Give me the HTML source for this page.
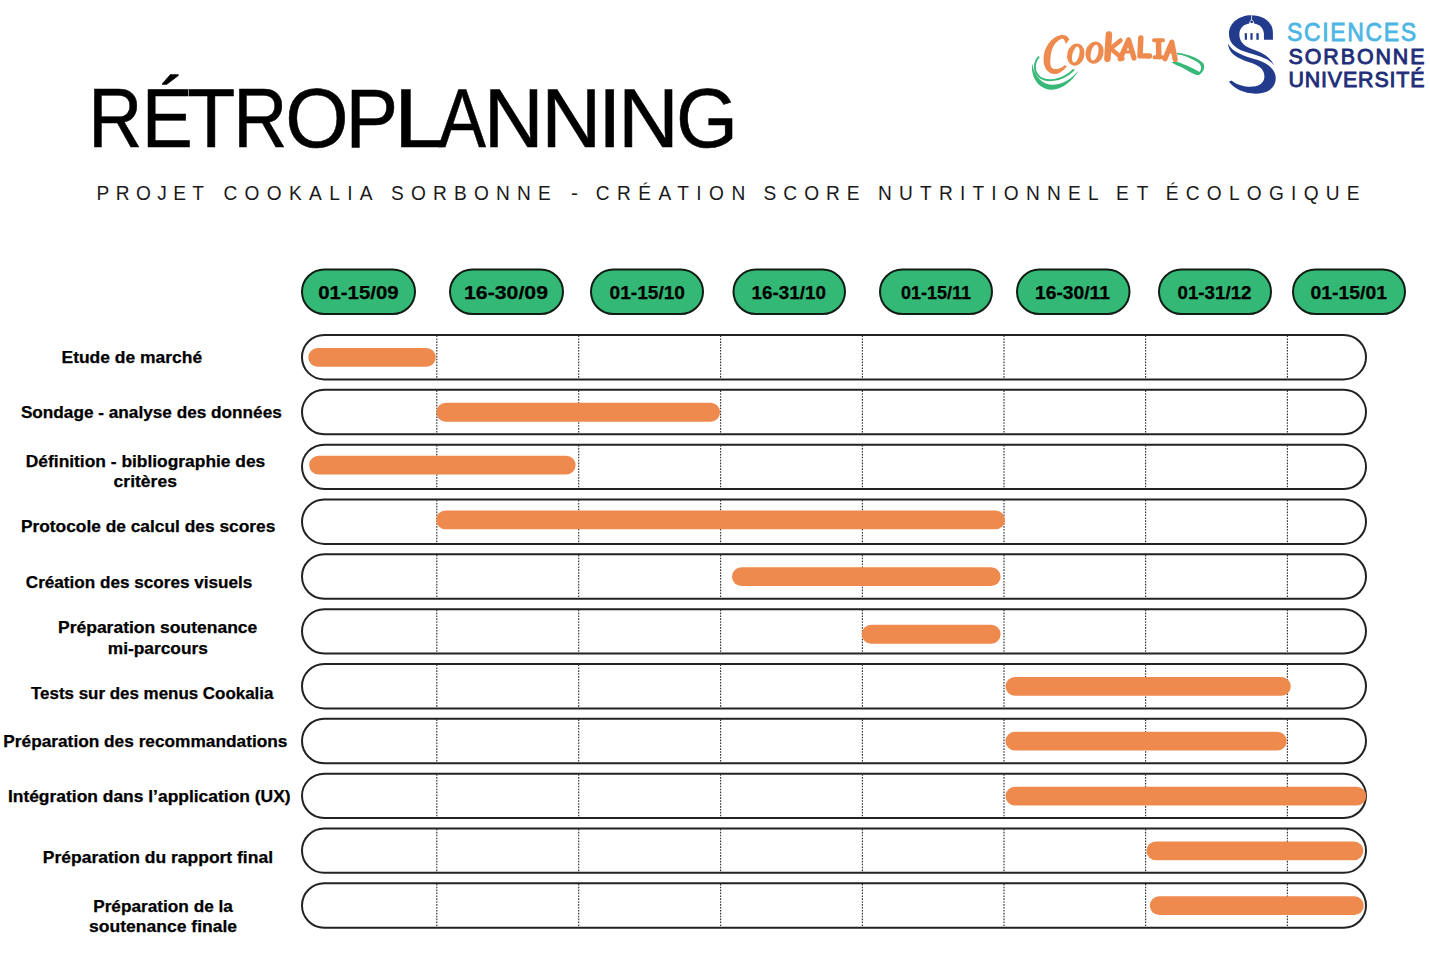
<!DOCTYPE html><html><head><meta charset="utf-8"><title>Rétroplanning</title><style>
html,body{margin:0;padding:0;background:#fff;}body{width:1430px;height:953px;overflow:hidden;position:relative;}
svg{position:absolute;left:0;top:0;display:block;}
text{font-family:"Liberation Sans",sans-serif;}
</style></head><body>
<svg width="1430" height="953" viewBox="0 0 1430 953">
<rect x="302.00" y="269.50" width="113.00" height="44.50" rx="22.25" fill="#33B875" stroke="#0f1d14" stroke-width="2.0"/>
<rect x="450.00" y="269.50" width="113.00" height="44.50" rx="22.25" fill="#33B875" stroke="#0f1d14" stroke-width="2.0"/>
<rect x="591.00" y="269.50" width="112.00" height="44.50" rx="22.25" fill="#33B875" stroke="#0f1d14" stroke-width="2.0"/>
<rect x="733.50" y="269.50" width="111.50" height="44.50" rx="22.25" fill="#33B875" stroke="#0f1d14" stroke-width="2.0"/>
<rect x="880.00" y="269.50" width="112.00" height="44.50" rx="22.25" fill="#33B875" stroke="#0f1d14" stroke-width="2.0"/>
<rect x="1017.00" y="269.50" width="112.50" height="44.50" rx="22.25" fill="#33B875" stroke="#0f1d14" stroke-width="2.0"/>
<rect x="1159.00" y="269.50" width="112.00" height="44.50" rx="22.25" fill="#33B875" stroke="#0f1d14" stroke-width="2.0"/>
<rect x="1293.00" y="269.50" width="112.00" height="44.50" rx="22.25" fill="#33B875" stroke="#0f1d14" stroke-width="2.0"/>
<rect x="302.00" y="335.00" width="1064.00" height="44.40" rx="22.20" fill="none" stroke="#222" stroke-width="2.0"/>
<line x1="436.80" y1="335.50" x2="436.80" y2="378.90" stroke="#333" stroke-width="1.15" stroke-dasharray="1.6 1.3"/>
<line x1="578.70" y1="335.50" x2="578.70" y2="378.90" stroke="#333" stroke-width="1.15" stroke-dasharray="1.6 1.3"/>
<line x1="720.60" y1="335.50" x2="720.60" y2="378.90" stroke="#333" stroke-width="1.15" stroke-dasharray="1.6 1.3"/>
<line x1="862.40" y1="335.50" x2="862.40" y2="378.90" stroke="#333" stroke-width="1.15" stroke-dasharray="1.6 1.3"/>
<line x1="1004.00" y1="335.50" x2="1004.00" y2="378.90" stroke="#333" stroke-width="1.15" stroke-dasharray="1.6 1.3"/>
<line x1="1145.60" y1="335.50" x2="1145.60" y2="378.90" stroke="#333" stroke-width="1.15" stroke-dasharray="1.6 1.3"/>
<line x1="1287.40" y1="335.50" x2="1287.40" y2="378.90" stroke="#333" stroke-width="1.15" stroke-dasharray="1.6 1.3"/>
<rect x="302.00" y="389.83" width="1064.00" height="44.40" rx="22.20" fill="none" stroke="#222" stroke-width="2.0"/>
<line x1="436.80" y1="390.33" x2="436.80" y2="433.73" stroke="#333" stroke-width="1.15" stroke-dasharray="1.6 1.3"/>
<line x1="578.70" y1="390.33" x2="578.70" y2="433.73" stroke="#333" stroke-width="1.15" stroke-dasharray="1.6 1.3"/>
<line x1="720.60" y1="390.33" x2="720.60" y2="433.73" stroke="#333" stroke-width="1.15" stroke-dasharray="1.6 1.3"/>
<line x1="862.40" y1="390.33" x2="862.40" y2="433.73" stroke="#333" stroke-width="1.15" stroke-dasharray="1.6 1.3"/>
<line x1="1004.00" y1="390.33" x2="1004.00" y2="433.73" stroke="#333" stroke-width="1.15" stroke-dasharray="1.6 1.3"/>
<line x1="1145.60" y1="390.33" x2="1145.60" y2="433.73" stroke="#333" stroke-width="1.15" stroke-dasharray="1.6 1.3"/>
<line x1="1287.40" y1="390.33" x2="1287.40" y2="433.73" stroke="#333" stroke-width="1.15" stroke-dasharray="1.6 1.3"/>
<rect x="302.00" y="444.66" width="1064.00" height="44.40" rx="22.20" fill="none" stroke="#222" stroke-width="2.0"/>
<line x1="436.80" y1="445.16" x2="436.80" y2="488.56" stroke="#333" stroke-width="1.15" stroke-dasharray="1.6 1.3"/>
<line x1="578.70" y1="445.16" x2="578.70" y2="488.56" stroke="#333" stroke-width="1.15" stroke-dasharray="1.6 1.3"/>
<line x1="720.60" y1="445.16" x2="720.60" y2="488.56" stroke="#333" stroke-width="1.15" stroke-dasharray="1.6 1.3"/>
<line x1="862.40" y1="445.16" x2="862.40" y2="488.56" stroke="#333" stroke-width="1.15" stroke-dasharray="1.6 1.3"/>
<line x1="1004.00" y1="445.16" x2="1004.00" y2="488.56" stroke="#333" stroke-width="1.15" stroke-dasharray="1.6 1.3"/>
<line x1="1145.60" y1="445.16" x2="1145.60" y2="488.56" stroke="#333" stroke-width="1.15" stroke-dasharray="1.6 1.3"/>
<line x1="1287.40" y1="445.16" x2="1287.40" y2="488.56" stroke="#333" stroke-width="1.15" stroke-dasharray="1.6 1.3"/>
<rect x="302.00" y="499.49" width="1064.00" height="44.40" rx="22.20" fill="none" stroke="#222" stroke-width="2.0"/>
<line x1="436.80" y1="499.99" x2="436.80" y2="543.39" stroke="#333" stroke-width="1.15" stroke-dasharray="1.6 1.3"/>
<line x1="578.70" y1="499.99" x2="578.70" y2="543.39" stroke="#333" stroke-width="1.15" stroke-dasharray="1.6 1.3"/>
<line x1="720.60" y1="499.99" x2="720.60" y2="543.39" stroke="#333" stroke-width="1.15" stroke-dasharray="1.6 1.3"/>
<line x1="862.40" y1="499.99" x2="862.40" y2="543.39" stroke="#333" stroke-width="1.15" stroke-dasharray="1.6 1.3"/>
<line x1="1004.00" y1="499.99" x2="1004.00" y2="543.39" stroke="#333" stroke-width="1.15" stroke-dasharray="1.6 1.3"/>
<line x1="1145.60" y1="499.99" x2="1145.60" y2="543.39" stroke="#333" stroke-width="1.15" stroke-dasharray="1.6 1.3"/>
<line x1="1287.40" y1="499.99" x2="1287.40" y2="543.39" stroke="#333" stroke-width="1.15" stroke-dasharray="1.6 1.3"/>
<rect x="302.00" y="554.32" width="1064.00" height="44.40" rx="22.20" fill="none" stroke="#222" stroke-width="2.0"/>
<line x1="436.80" y1="554.82" x2="436.80" y2="598.22" stroke="#333" stroke-width="1.15" stroke-dasharray="1.6 1.3"/>
<line x1="578.70" y1="554.82" x2="578.70" y2="598.22" stroke="#333" stroke-width="1.15" stroke-dasharray="1.6 1.3"/>
<line x1="720.60" y1="554.82" x2="720.60" y2="598.22" stroke="#333" stroke-width="1.15" stroke-dasharray="1.6 1.3"/>
<line x1="862.40" y1="554.82" x2="862.40" y2="598.22" stroke="#333" stroke-width="1.15" stroke-dasharray="1.6 1.3"/>
<line x1="1004.00" y1="554.82" x2="1004.00" y2="598.22" stroke="#333" stroke-width="1.15" stroke-dasharray="1.6 1.3"/>
<line x1="1145.60" y1="554.82" x2="1145.60" y2="598.22" stroke="#333" stroke-width="1.15" stroke-dasharray="1.6 1.3"/>
<line x1="1287.40" y1="554.82" x2="1287.40" y2="598.22" stroke="#333" stroke-width="1.15" stroke-dasharray="1.6 1.3"/>
<rect x="302.00" y="609.15" width="1064.00" height="44.40" rx="22.20" fill="none" stroke="#222" stroke-width="2.0"/>
<line x1="436.80" y1="609.65" x2="436.80" y2="653.05" stroke="#333" stroke-width="1.15" stroke-dasharray="1.6 1.3"/>
<line x1="578.70" y1="609.65" x2="578.70" y2="653.05" stroke="#333" stroke-width="1.15" stroke-dasharray="1.6 1.3"/>
<line x1="720.60" y1="609.65" x2="720.60" y2="653.05" stroke="#333" stroke-width="1.15" stroke-dasharray="1.6 1.3"/>
<line x1="862.40" y1="609.65" x2="862.40" y2="653.05" stroke="#333" stroke-width="1.15" stroke-dasharray="1.6 1.3"/>
<line x1="1004.00" y1="609.65" x2="1004.00" y2="653.05" stroke="#333" stroke-width="1.15" stroke-dasharray="1.6 1.3"/>
<line x1="1145.60" y1="609.65" x2="1145.60" y2="653.05" stroke="#333" stroke-width="1.15" stroke-dasharray="1.6 1.3"/>
<line x1="1287.40" y1="609.65" x2="1287.40" y2="653.05" stroke="#333" stroke-width="1.15" stroke-dasharray="1.6 1.3"/>
<rect x="302.00" y="663.98" width="1064.00" height="44.40" rx="22.20" fill="none" stroke="#222" stroke-width="2.0"/>
<line x1="436.80" y1="664.48" x2="436.80" y2="707.88" stroke="#333" stroke-width="1.15" stroke-dasharray="1.6 1.3"/>
<line x1="578.70" y1="664.48" x2="578.70" y2="707.88" stroke="#333" stroke-width="1.15" stroke-dasharray="1.6 1.3"/>
<line x1="720.60" y1="664.48" x2="720.60" y2="707.88" stroke="#333" stroke-width="1.15" stroke-dasharray="1.6 1.3"/>
<line x1="862.40" y1="664.48" x2="862.40" y2="707.88" stroke="#333" stroke-width="1.15" stroke-dasharray="1.6 1.3"/>
<line x1="1004.00" y1="664.48" x2="1004.00" y2="707.88" stroke="#333" stroke-width="1.15" stroke-dasharray="1.6 1.3"/>
<line x1="1145.60" y1="664.48" x2="1145.60" y2="707.88" stroke="#333" stroke-width="1.15" stroke-dasharray="1.6 1.3"/>
<line x1="1287.40" y1="664.48" x2="1287.40" y2="707.88" stroke="#333" stroke-width="1.15" stroke-dasharray="1.6 1.3"/>
<rect x="302.00" y="718.81" width="1064.00" height="44.40" rx="22.20" fill="none" stroke="#222" stroke-width="2.0"/>
<line x1="436.80" y1="719.31" x2="436.80" y2="762.71" stroke="#333" stroke-width="1.15" stroke-dasharray="1.6 1.3"/>
<line x1="578.70" y1="719.31" x2="578.70" y2="762.71" stroke="#333" stroke-width="1.15" stroke-dasharray="1.6 1.3"/>
<line x1="720.60" y1="719.31" x2="720.60" y2="762.71" stroke="#333" stroke-width="1.15" stroke-dasharray="1.6 1.3"/>
<line x1="862.40" y1="719.31" x2="862.40" y2="762.71" stroke="#333" stroke-width="1.15" stroke-dasharray="1.6 1.3"/>
<line x1="1004.00" y1="719.31" x2="1004.00" y2="762.71" stroke="#333" stroke-width="1.15" stroke-dasharray="1.6 1.3"/>
<line x1="1145.60" y1="719.31" x2="1145.60" y2="762.71" stroke="#333" stroke-width="1.15" stroke-dasharray="1.6 1.3"/>
<line x1="1287.40" y1="719.31" x2="1287.40" y2="762.71" stroke="#333" stroke-width="1.15" stroke-dasharray="1.6 1.3"/>
<rect x="302.00" y="773.64" width="1064.00" height="44.40" rx="22.20" fill="none" stroke="#222" stroke-width="2.0"/>
<line x1="436.80" y1="774.14" x2="436.80" y2="817.54" stroke="#333" stroke-width="1.15" stroke-dasharray="1.6 1.3"/>
<line x1="578.70" y1="774.14" x2="578.70" y2="817.54" stroke="#333" stroke-width="1.15" stroke-dasharray="1.6 1.3"/>
<line x1="720.60" y1="774.14" x2="720.60" y2="817.54" stroke="#333" stroke-width="1.15" stroke-dasharray="1.6 1.3"/>
<line x1="862.40" y1="774.14" x2="862.40" y2="817.54" stroke="#333" stroke-width="1.15" stroke-dasharray="1.6 1.3"/>
<line x1="1004.00" y1="774.14" x2="1004.00" y2="817.54" stroke="#333" stroke-width="1.15" stroke-dasharray="1.6 1.3"/>
<line x1="1145.60" y1="774.14" x2="1145.60" y2="817.54" stroke="#333" stroke-width="1.15" stroke-dasharray="1.6 1.3"/>
<line x1="1287.40" y1="774.14" x2="1287.40" y2="817.54" stroke="#333" stroke-width="1.15" stroke-dasharray="1.6 1.3"/>
<rect x="302.00" y="828.47" width="1064.00" height="44.40" rx="22.20" fill="none" stroke="#222" stroke-width="2.0"/>
<line x1="436.80" y1="828.97" x2="436.80" y2="872.37" stroke="#333" stroke-width="1.15" stroke-dasharray="1.6 1.3"/>
<line x1="578.70" y1="828.97" x2="578.70" y2="872.37" stroke="#333" stroke-width="1.15" stroke-dasharray="1.6 1.3"/>
<line x1="720.60" y1="828.97" x2="720.60" y2="872.37" stroke="#333" stroke-width="1.15" stroke-dasharray="1.6 1.3"/>
<line x1="862.40" y1="828.97" x2="862.40" y2="872.37" stroke="#333" stroke-width="1.15" stroke-dasharray="1.6 1.3"/>
<line x1="1004.00" y1="828.97" x2="1004.00" y2="872.37" stroke="#333" stroke-width="1.15" stroke-dasharray="1.6 1.3"/>
<line x1="1145.60" y1="828.97" x2="1145.60" y2="872.37" stroke="#333" stroke-width="1.15" stroke-dasharray="1.6 1.3"/>
<line x1="1287.40" y1="828.97" x2="1287.40" y2="872.37" stroke="#333" stroke-width="1.15" stroke-dasharray="1.6 1.3"/>
<rect x="302.00" y="883.30" width="1064.00" height="44.40" rx="22.20" fill="none" stroke="#222" stroke-width="2.0"/>
<line x1="436.80" y1="883.80" x2="436.80" y2="927.20" stroke="#333" stroke-width="1.15" stroke-dasharray="1.6 1.3"/>
<line x1="578.70" y1="883.80" x2="578.70" y2="927.20" stroke="#333" stroke-width="1.15" stroke-dasharray="1.6 1.3"/>
<line x1="720.60" y1="883.80" x2="720.60" y2="927.20" stroke="#333" stroke-width="1.15" stroke-dasharray="1.6 1.3"/>
<line x1="862.40" y1="883.80" x2="862.40" y2="927.20" stroke="#333" stroke-width="1.15" stroke-dasharray="1.6 1.3"/>
<line x1="1004.00" y1="883.80" x2="1004.00" y2="927.20" stroke="#333" stroke-width="1.15" stroke-dasharray="1.6 1.3"/>
<line x1="1145.60" y1="883.80" x2="1145.60" y2="927.20" stroke="#333" stroke-width="1.15" stroke-dasharray="1.6 1.3"/>
<line x1="1287.40" y1="883.80" x2="1287.40" y2="927.20" stroke="#333" stroke-width="1.15" stroke-dasharray="1.6 1.3"/>
<rect x="308.30" y="348.00" width="127.50" height="18.80" rx="9.40" fill="#EE8A4E"/>
<rect x="436.40" y="402.83" width="283.60" height="18.80" rx="9.40" fill="#EE8A4E"/>
<rect x="309.10" y="455.66" width="266.50" height="18.80" rx="9.40" fill="#EE8A4E"/>
<rect x="436.10" y="510.49" width="568.90" height="18.80" rx="9.40" fill="#EE8A4E"/>
<rect x="732.00" y="567.32" width="268.60" height="18.80" rx="9.40" fill="#EE8A4E"/>
<rect x="861.80" y="624.85" width="138.80" height="18.80" rx="9.40" fill="#EE8A4E"/>
<rect x="1005.50" y="676.98" width="285.30" height="18.80" rx="9.40" fill="#EE8A4E"/>
<rect x="1005.50" y="731.81" width="281.20" height="18.80" rx="9.40" fill="#EE8A4E"/>
<rect x="1005.50" y="786.64" width="360.70" height="18.80" rx="9.40" fill="#EE8A4E"/>
<rect x="1146.40" y="841.47" width="217.00" height="18.80" rx="9.40" fill="#EE8A4E"/>
<rect x="1149.80" y="896.30" width="214.00" height="18.80" rx="9.40" fill="#EE8A4E"/>
<text transform="scale(0.9063,1)" x="97.49" y="146.7" font-size="82.7" fill="#000" stroke="#000" stroke-width="0.55">R</text>
<text transform="scale(0.9259,1)" x="153.07" y="146.7" font-size="82.7" fill="#000" stroke="#000" stroke-width="0.55">É</text>
<text transform="scale(0.9516,1)" x="196.85" y="146.7" font-size="82.7" fill="#000" stroke="#000" stroke-width="0.55">T</text>
<text transform="scale(0.9063,1)" x="257.49" y="146.7" font-size="82.7" fill="#000" stroke="#000" stroke-width="0.55">R</text>
<text transform="scale(0.9849,1)" x="289.51" y="146.7" font-size="82.7" fill="#000" stroke="#000" stroke-width="0.55">O</text>
<text transform="scale(0.9542,1)" x="362.10" y="146.7" font-size="82.7" fill="#000" stroke="#000" stroke-width="0.55">P</text>
<text transform="scale(1.1381,1)" x="345.99" y="146.7" font-size="82.7" fill="#000" stroke="#000" stroke-width="0.55">L</text>
<text transform="scale(0.8662,1)" x="506.07" y="146.7" font-size="82.7" fill="#000" stroke="#000" stroke-width="0.55">A</text>
<text transform="scale(1.0044,1)" x="481.66" y="146.7" font-size="82.7" fill="#000" stroke="#000" stroke-width="0.55">N</text>
<text transform="scale(1.0066,1)" x="537.83" y="146.7" font-size="82.7" fill="#000" stroke="#000" stroke-width="0.55">N</text>
<text transform="scale(1.0243,1)" x="583.81" y="146.7" font-size="82.7" fill="#000" stroke="#000" stroke-width="0.55">I</text>
<text transform="scale(1.0196,1)" x="606.12" y="146.7" font-size="82.7" fill="#000" stroke="#000" stroke-width="0.55">N</text>
<text transform="scale(0.9632,1)" x="701.85" y="146.7" font-size="82.7" fill="#000" stroke="#000" stroke-width="0.55">G</text>
<text x="105.00" y="199.80" font-size="20.8" font-weight="400" fill="#1a1a1a" text-anchor="start" textLength="116.74" lengthAdjust="spacing" transform="scale(0.92,1)">PROJET</text>
<text x="242.83" y="199.80" font-size="20.8" font-weight="400" fill="#1a1a1a" text-anchor="start" textLength="162.17" lengthAdjust="spacing" transform="scale(0.92,1)">COOKALIA</text>
<text x="425.00" y="199.80" font-size="20.8" font-weight="400" fill="#1a1a1a" text-anchor="start" textLength="173.70" lengthAdjust="spacing" transform="scale(0.92,1)">SORBONNE</text>
<text x="570.95" y="199.80" font-size="20.8" font-weight="400" fill="#1a1a1a" text-anchor="start">-</text>
<text x="647.61" y="199.80" font-size="20.8" font-weight="400" fill="#1a1a1a" text-anchor="start" textLength="162.39" lengthAdjust="spacing" transform="scale(0.92,1)">CRÉATION</text>
<text x="830.00" y="199.80" font-size="20.8" font-weight="400" fill="#1a1a1a" text-anchor="start" textLength="104.35" lengthAdjust="spacing" transform="scale(0.92,1)">SCORE</text>
<text x="954.35" y="199.80" font-size="20.8" font-weight="400" fill="#1a1a1a" text-anchor="start" textLength="239.78" lengthAdjust="spacing" transform="scale(0.92,1)">NUTRITIONNEL</text>
<text x="1213.04" y="199.80" font-size="20.8" font-weight="400" fill="#1a1a1a" text-anchor="start" textLength="35.22" lengthAdjust="spacing" transform="scale(0.92,1)">ET</text>
<text x="1267.17" y="199.80" font-size="20.8" font-weight="400" fill="#1a1a1a" text-anchor="start" textLength="210.65" lengthAdjust="spacing" transform="scale(0.92,1)">ÉCOLOGIQUE</text>
<text x="318.20" y="299.30" font-size="19.0" font-weight="700" fill="#000" text-anchor="start" textLength="80.40" lengthAdjust="spacingAndGlyphs" stroke="#000" stroke-width="0.25">01-15/09</text>
<text x="464.00" y="299.30" font-size="19.0" font-weight="700" fill="#000" text-anchor="start" textLength="84.00" lengthAdjust="spacingAndGlyphs" stroke="#000" stroke-width="0.25">16-30/09</text>
<text x="609.50" y="299.30" font-size="19.0" font-weight="700" fill="#000" text-anchor="start" textLength="75.50" lengthAdjust="spacingAndGlyphs" stroke="#000" stroke-width="0.25">01-15/10</text>
<text x="751.50" y="299.30" font-size="19.0" font-weight="700" fill="#000" text-anchor="start" textLength="74.50" lengthAdjust="spacingAndGlyphs" stroke="#000" stroke-width="0.25">16-31/10</text>
<text x="901.00" y="299.30" font-size="19.0" font-weight="700" fill="#000" text-anchor="start" textLength="70.00" lengthAdjust="spacingAndGlyphs" stroke="#000" stroke-width="0.25">01-15/11</text>
<text x="1035.00" y="299.30" font-size="19.0" font-weight="700" fill="#000" text-anchor="start" textLength="75.00" lengthAdjust="spacingAndGlyphs" stroke="#000" stroke-width="0.25">16-30/11</text>
<text x="1177.50" y="299.30" font-size="19.0" font-weight="700" fill="#000" text-anchor="start" textLength="74.00" lengthAdjust="spacingAndGlyphs" stroke="#000" stroke-width="0.25">01-31/12</text>
<text x="1310.50" y="299.30" font-size="19.0" font-weight="700" fill="#000" text-anchor="start" textLength="76.50" lengthAdjust="spacingAndGlyphs" stroke="#000" stroke-width="0.25">01-15/01</text>
<text x="61.50" y="362.80" font-size="16.7" font-weight="700" fill="#000" text-anchor="start" textLength="140.70" lengthAdjust="spacingAndGlyphs" stroke="#000" stroke-width="0.25">Etude de marché</text>
<text x="20.90" y="417.80" font-size="16.7" font-weight="700" fill="#000" text-anchor="start" textLength="260.90" lengthAdjust="spacingAndGlyphs" stroke="#000" stroke-width="0.25">Sondage - analyse des données</text>
<text x="25.80" y="466.50" font-size="16.7" font-weight="700" fill="#000" text-anchor="start" textLength="239.50" lengthAdjust="spacingAndGlyphs" stroke="#000" stroke-width="0.25">Définition - bibliographie des</text>
<text x="113.60" y="486.50" font-size="16.7" font-weight="700" fill="#000" text-anchor="start" textLength="63.30" lengthAdjust="spacingAndGlyphs" stroke="#000" stroke-width="0.25">critères</text>
<text x="20.90" y="531.50" font-size="16.7" font-weight="700" fill="#000" text-anchor="start" textLength="254.40" lengthAdjust="spacingAndGlyphs" stroke="#000" stroke-width="0.25">Protocole de calcul des scores</text>
<text x="25.80" y="587.90" font-size="16.7" font-weight="700" fill="#000" text-anchor="start" textLength="226.50" lengthAdjust="spacingAndGlyphs" stroke="#000" stroke-width="0.25">Création des scores visuels</text>
<text x="58.00" y="633.40" font-size="16.7" font-weight="700" fill="#000" text-anchor="start" textLength="199.30" lengthAdjust="spacingAndGlyphs" stroke="#000" stroke-width="0.25">Préparation soutenance</text>
<text x="107.80" y="654.40" font-size="16.7" font-weight="700" fill="#000" text-anchor="start" textLength="100.10" lengthAdjust="spacingAndGlyphs" stroke="#000" stroke-width="0.25">mi-parcours</text>
<text x="31.00" y="698.70" font-size="16.7" font-weight="700" fill="#000" text-anchor="start" textLength="242.40" lengthAdjust="spacingAndGlyphs" stroke="#000" stroke-width="0.25">Tests sur des menus Cookalia</text>
<text x="3.30" y="746.50" font-size="16.7" font-weight="700" fill="#000" text-anchor="start" textLength="284.10" lengthAdjust="spacingAndGlyphs" stroke="#000" stroke-width="0.25">Préparation des recommandations</text>
<text x="7.90" y="801.50" font-size="16.7" font-weight="700" fill="#000" text-anchor="start" textLength="282.70" lengthAdjust="spacingAndGlyphs" stroke="#000" stroke-width="0.25">Intégration dans l’application (UX)</text>
<text x="42.80" y="863.20" font-size="16.7" font-weight="700" fill="#000" text-anchor="start" textLength="230.20" lengthAdjust="spacingAndGlyphs" stroke="#000" stroke-width="0.25">Préparation du rapport final</text>
<text x="93.20" y="912.00" font-size="16.7" font-weight="700" fill="#000" text-anchor="start" textLength="139.70" lengthAdjust="spacingAndGlyphs" stroke="#000" stroke-width="0.25">Préparation de la</text>
<text x="89.00" y="931.50" font-size="16.7" font-weight="700" fill="#000" text-anchor="start" textLength="148.10" lengthAdjust="spacingAndGlyphs" stroke="#000" stroke-width="0.25">soutenance finale</text>
<g id="sorb" transform="translate(1220,10) scale(0.0945)" fill="#233B8C">
<path d="M560,315 L560,240 C560,120 450,55 330,55 C200,55 95,140 95,250 C95,340 150,400 260,440 C420,490 540,520 580,600 C540,500 450,450 330,410 C250,380 205,330 205,260 C205,190 250,150 310,142 C312,120 322,104 335,100 C348,104 358,120 360,142 C420,150 465,190 465,260 L465,315 Z"/>
<path d="M85,355 C120,440 250,490 400,530 C520,570 590,640 590,720 C590,830 500,885 380,885 C250,885 150,830 95,760 L120,745 C190,800 280,815 350,810 C430,800 470,760 470,700 C470,620 400,580 300,550 C180,510 90,460 85,355 Z"/>
<rect x="262" y="245" width="23" height="70"/><rect x="322" y="245" width="23" height="70"/><rect x="385" y="245" width="25" height="70"/>
<circle cx="335" cy="125" r="15"/>
<rect x="331" y="55" width="8" height="50" fill="#fff"/>
</g>
<text transform="scale(0.92,1)" x="1398.91" y="41.5" font-size="25" fill="#4DB6E4" stroke="#4DB6E4" stroke-width="0.8" textLength="140.22" lengthAdjust="spacing">SCIENCES</text>
<text x="1288.5" y="64.2" font-size="21.4" fill="#1F2E78" stroke="#1F2E78" stroke-width="0.9" textLength="136" lengthAdjust="spacing">SORBONNE</text>
<text x="1288.5" y="87.3" font-size="21.4" fill="#1F2E78" stroke="#1F2E78" stroke-width="0.9" textLength="136" lengthAdjust="spacing">UNIVERSITÉ</text>
<g id="cook">
<path fill="none" stroke="#37B877" stroke-width="1.9" stroke-linecap="round" d="M1038.6,57.2 C1033.8,62.5 1033.2,71.5 1039.5,77 C1046,82 1061,82 1073.5,70"/>
<path fill="#37B877" d="M1032.2,63.5 C1030.5,76 1037.5,89 1051,89.7 C1062,90.2 1072.5,81 1078.6,70.6 C1072,78.5 1063,84.6 1053.5,84.8 C1043,85 1034.5,77.5 1032.2,63.5 Z"/>
<path fill="#37B877" d="M1177,52.8 C1188,54 1198,58 1203,63 C1205.5,66 1204,72 1199,75 C1195,75.5 1190,72 1184,68.5 C1179,66 1174,64 1171.5,62.2 L1176,61.5 C1183,63.5 1193,68 1199.5,72 C1202,69 1201.5,65 1198,62.5 C1192,58.5 1184,55 1177,54.2 Z"/>
<g fill="#EE8A4E">
<path d="M1069.3,39.5 C1067,35 1064,35 1061.4,35.1 C1056,35.5 1046,42 1043.8,55.2 C1042.5,65 1046,73 1053.9,74.1 C1059,74.5 1064,70 1067.1,65.9 L1064.6,65.3 C1062,68 1058,69.5 1053.9,69 C1050,68 1050,63 1050.5,58 C1051,50 1054,42 1061.4,38.8 C1064,38 1065,41 1065.8,43.9 Z"/>
<path fill-rule="evenodd" transform="rotate(14 1075.8 54.6)" d="M1067.2,54.6 a8.6,11.2 0 1,0 17.2,0 a8.6,11.2 0 1,0 -17.2,0 Z M1072.3999999999999,54.6 a3.4,8.2 0 1,0 6.8,0 a3.4,8.2 0 1,0 -6.8,0 Z"/>
<path fill-rule="evenodd" transform="rotate(14 1094.6 52.6)" d="M1085.6,52.6 a9.0,11.2 0 1,0 18.0,0 a9.0,11.2 0 1,0 -18.0,0 Z M1091.0,52.6 a3.6,8.0 0 1,0 7.2,0 a3.6,8.0 0 1,0 -7.2,0 Z"/>
</g>
<g fill="none" stroke="#EE8A4E" stroke-linecap="round" stroke-linejoin="round">
<path stroke-width="6.5" d="M1108.9,34.5 L1107.4,58.8"/>
<path stroke-width="4.5" d="M1110,49 L1120.5,40.5 M1110.5,48.5 L1122.5,58.5"/>
<path stroke-width="5.2" d="M1120.2,58.8 L1128.6,39.8 L1134,58"/>
<path stroke-width="3.2" d="M1124.2,52 L1131.8,52"/>
<path stroke-width="5.5" d="M1140.8,38 L1140,55.8 L1149.5,56"/>
<path stroke-width="5.5" d="M1158.5,41.5 L1158.8,56.5"/>
<path stroke-width="4" d="M1154,40.2 L1163,40.2 M1154.5,57.3 L1162.5,57.3"/>
<path stroke-width="5.2" d="M1165,58.8 L1171.8,42.2 L1175.2,59.5"/>
<path stroke-width="3.2" d="M1167.8,52 L1174.2,52"/>
</g>
</g>

</svg></body></html>
